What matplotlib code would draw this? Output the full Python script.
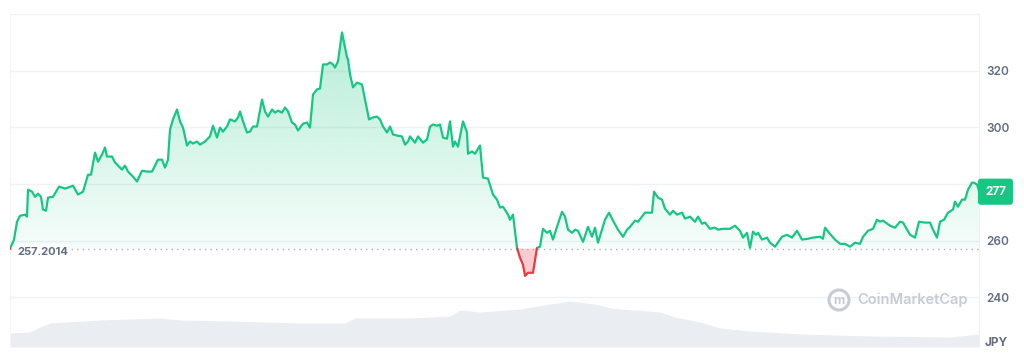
import numpy as np
import matplotlib
matplotlib.use("Agg")
import matplotlib.pyplot as plt
from matplotlib.path import Path
from matplotlib.patches import Circle

# ---------------- data ----------------
baseline = 257.2014
last_price = 277

time_steps = [0, 4, 7, 10, 15, 17, 18, 22, 25, 28, 31, 33, 36, 38, 43, 49, 55, 63, 68, 73,
              78, 81, 85, 88, 92, 95, 97, 102, 105, 112, 115, 118, 123, 127, 132, 137, 142, 148,
              152, 155, 158, 160, 163, 167, 170, 173, 177, 180, 183, 187, 190, 195, 200, 203,
              207, 210, 213, 217, 220, 225, 228, 230, 233, 237, 240, 243, 247, 252, 255, 258,
              262, 265, 268, 272, 275, 278, 282, 285, 288, 293, 297, 300, 303, 307, 310, 313,
              317, 320, 323, 325, 328, 332, 334, 337, 338, 340, 343, 347, 352, 355, 359, 363,
              367, 370, 373, 377, 380, 383, 387, 392, 395, 398, 400, 405, 408, 413, 417, 420,
              423, 427, 430, 433, 437, 440, 443, 445, 448, 453, 457, 458, 462, 465, 470, 473,
              478, 483, 487, 490, 493, 498, 500, 503, 507, 510, 513, 515, 518, 523, 527, 530,
              533, 537, 540, 543, 547, 552, 555, 558, 562, 565, 568, 573, 578, 582, 585, 588,
              592, 595, 599, 603, 608, 613, 617, 620, 625, 628, 632, 635, 638, 642, 644, 648,
              652, 655, 660, 663, 667, 672, 675, 680, 685, 688, 692, 695, 700, 705, 708, 713,
              720, 725, 730, 733, 737, 740, 743, 746, 748, 752, 757, 760, 765, 772, 777, 782,
              787, 792, 798, 803, 810, 813, 815, 819, 825, 830, 835, 840, 845, 850, 853, 858,
              863, 867, 870, 873, 880, 885, 890, 893, 897, 900, 905, 909, 915, 920, 923, 927,
              930, 934, 938, 943, 945, 948, 952, 955, 958, 962, 964, 967, 969]

prices = [257.2, 260.4, 266.7, 268.8, 269.2, 268.5, 278.0, 277.3, 275.5, 276.6, 275.5, 271.0,
          270.6, 275.2, 275.5, 279.1, 278.4, 279.4, 276.3, 277.3,
          283.3, 283.3, 291.1, 287.9, 290.4, 292.9, 289.7, 289.7, 287.6, 285.1, 286.5, 284.4,
          282.6, 280.9, 284.7, 284.4, 284.4, 288.6,
          288.6, 285.8, 288.6, 299.2, 302.8, 306.3, 302.1, 299.9, 293.6, 295.0, 294.3, 295.0,
          293.9, 295.0, 296.8, 300.6,
          296.4, 299.9, 298.5, 300.3, 302.8, 302.1, 303.5, 305.6, 302.1, 298.2, 298.5, 300.3,
          300.3, 309.8, 305.6, 303.8,
          306.3, 305.2, 305.9, 305.2, 307.0, 305.6, 301.7, 301.0, 298.9, 301.3, 301.7, 299.9,
          311.6, 313.4, 313.7, 322.2,
          322.2, 322.9, 322.2, 321.1, 323.3, 333.5, 330.0, 324.7, 324.0, 318.7, 314.1, 315.8,
          315.1, 309.8, 302.8, 303.5,
          303.8, 302.8, 300.3, 298.2, 300.3, 297.5, 297.1, 296.8, 293.9, 295.0, 296.8, 294.6,
          296.8, 294.6, 295.7, 300.3,
          301.0, 300.6, 301.0, 296.4, 296.0, 302.1, 293.2, 295.0, 293.2, 302.1, 298.2, 290.7,
          291.5, 290.7, 293.6, 282.3,
          281.9, 276.3, 274.5, 271.7, 272.0, 269.2, 267.4, 269.2, 257.5, 254.0, 251.5, 247.6,
          248.7, 248.7, 257.5, 257.9,
          264.2, 262.8, 263.5, 260.4, 264.9, 270.2, 268.5, 263.9, 262.8, 263.9, 263.5, 259.6,
          264.9, 261.4, 264.6, 259.3,
          263.9, 267.4, 269.9, 267.1, 263.9, 261.4, 263.9, 264.9, 267.1, 266.7, 268.5, 269.9,
          269.9, 269.9, 277.3, 275.2,
          274.5, 271.3, 269.2, 270.6, 269.2, 269.9, 267.8, 268.5, 266.7, 268.5, 266.0, 266.4,
          264.2, 264.6, 263.9, 264.2,
          264.2, 265.3, 263.5, 261.1, 262.8, 257.5, 263.2, 262.1, 262.8, 260.4, 261.1, 259.3,
          257.9, 261.4, 262.1, 261.1,
          263.5, 260.4, 260.7, 261.1, 261.4, 260.7, 264.6, 262.8, 260.4, 258.9, 258.9, 257.9,
          259.3, 258.9, 261.4, 263.5,
          264.2, 267.4, 266.7, 267.1, 265.3, 264.6, 266.7, 266.4, 263.9, 262.1, 261.1, 266.7,
          266.4, 266.4, 263.9, 261.1,
          266.7, 267.4, 269.9, 271.0, 273.8, 272.0, 274.5, 274.5, 278.0, 280.5, 280.5, 279.8,
          277.7]

volume_steps = [0, 20, 30, 40, 90, 150, 170, 220, 290, 335, 345, 400, 440, 450, 470, 510,
                540, 560, 585, 600, 650, 665, 690, 710, 740, 790, 860, 940, 969]
volume = [1.4, 1.5, 2.0, 2.4, 2.7, 2.9, 2.7, 2.6, 2.4, 2.4, 2.9, 2.9, 3.1, 3.7, 3.5, 3.8,
          4.3, 4.6, 4.3, 3.9, 3.5, 3.0, 2.5, 1.9, 1.6, 1.3, 1.1, 1.0, 1.3]

y_ticks = [240, 260, 280, 300, 320, 340]
y_labels = ["240", "260", "", "300", "320", ""]
currency = "JPY"

# ---------------- styling ----------------
GREEN = "#16c784"
RED = "#ea3943"
GRID = "#eff2f5"
LABEL = "#616e85"

plt.rcParams["font.family"] = ["Inter", "DejaVu Sans"]

W, H = 1024, 354
fig = plt.figure(figsize=(W / 100, H / 100), dpi=100)
fig.patch.set_facecolor("white")

pos = [10 / W, 7 / H, (979 - 10) / W, (347 - 14) / H]

# volume axes (behind)
axv = fig.add_axes(pos, zorder=0)
axv.fill_between(volume_steps, 0, volume, color="#eaedf1", lw=0)
axv.set_xlim(0, 969)
axv.set_ylim(0, 33.3)
axv.axis("off")

ax = fig.add_axes(pos, zorder=1)
ax.patch.set_alpha(0)
t = np.array(time_steps, dtype=float)
p = np.array(prices, dtype=float)

# insert crossing points with the baseline
tt, pp = [t[0]], [p[0]]
for i in range(1, len(t)):
    a, b = p[i - 1] - baseline, p[i] - baseline
    if a * b < 0:
        f = a / (a - b)
        tt.append(t[i - 1] + f * (t[i] - t[i - 1]))
        pp.append(baseline)
    tt.append(t[i])
    pp.append(p[i])
tt, pp = np.array(tt), np.array(pp)

ymin, ymax = 222.5, 340
ax.set_xlim(0, 969)
ax.set_ylim(ymin, ymax)

# grid
for v in y_ticks:
    ax.axhline(v, color=GRID, lw=1.0, zorder=0)

# green gradient fill
poly = ax.fill_between(tt, baseline, pp, where=pp >= baseline, interpolate=True,
                       color="none", lw=0)
paths = poly.get_paths()
clip = Path.make_compound_path(*paths)
n = 256
grad = np.zeros((n, 1, 4))
g = np.array(matplotlib.colors.to_rgb(GREEN))
grad[:, 0, :3] = g
grad[:, 0, 3] = np.linspace(0.04, 0.32, n)
im = ax.imshow(grad, extent=[0, 969, baseline, 336], origin="lower", aspect="auto",
               zorder=1, interpolation="bilinear")
im.set_clip_path(clip, transform=ax.transData)

# red fill
ax.fill_between(tt, baseline, pp, where=pp <= baseline, interpolate=True,
                color=RED, alpha=0.25, lw=0, zorder=1)

# lines
ax.plot(tt, np.where(pp >= baseline, pp, np.nan), color=GREEN, lw=1.6, zorder=3,
        solid_joinstyle="round", solid_capstyle="round")
ax.plot(tt, np.where(pp <= baseline, pp, np.nan), color=RED, lw=1.6, zorder=3,
        solid_joinstyle="round", solid_capstyle="round")

# baseline dotted
ax.axhline(baseline, color="#a6b0c3", lw=1.0, ls=(0, (1, 3)), zorder=2)
ax.text(7, baseline - 1.1, f"{baseline:.4f}", ha="left", va="center", fontsize=8,
        color=LABEL, fontweight="bold", zorder=4,
        bbox=dict(boxstyle="round,pad=0.25", fc="white", ec="none"))

# spines
ax.spines["bottom"].set_visible(False)
ax.spines["top"].set_visible(False)
ax.spines["right"].set_color("#eff2f5")
ax.spines["left"].set_color("#f3f5f7")

ax.set_xticks([])
ax.yaxis.tick_right()
ax.set_yticks(y_ticks)
ax.set_yticklabels(y_labels)
ax.tick_params(axis="y", length=0, pad=5, labelsize=8.5, labelcolor=LABEL)
for lab in ax.get_yticklabels():
    lab.set_fontweight("semibold")

# current price badge
ax.text(1.0 + 6 / 969, last_price + 0.3, f"{last_price}", transform=ax.get_yaxis_transform(),
        ha="left", va="center", fontsize=8.5, color="white", fontweight="bold", zorder=5,
        bbox=dict(boxstyle="round,pad=0.6,rounding_size=0.25", fc=GREEN, ec="none"),
        clip_on=False)

# currency label
fig.text(985 / W, 1 - 343 / H, currency, ha="left", va="center", fontsize=8.5,
         color=LABEL, fontweight="bold")

# watermark
WM = "#c6cbd6"
fig.text(857 / W, 1 - 300 / H, "CoinMarketCap", ha="left", va="center", fontsize=10.5,
         color=WM, fontweight="semibold")
circ = Circle((839, H - 300), 10, transform=None, fill=False, ec=WM, lw=2.2)
fig.patches.append(circ)
fig.text(839 / W, 1 - 301 / H, "m", ha="center", va="center", fontsize=9,
         color=WM, fontweight="bold")

fig.savefig("out.png", dpi=100, facecolor="white")
